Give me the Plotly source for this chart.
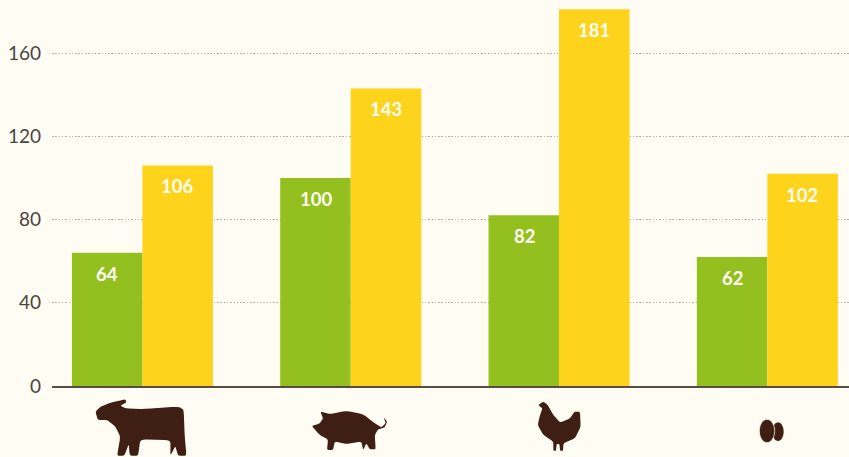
import math
import plotly.graph_objects as go

categories = ["Beef", "Pork", "Chicken", "Eggs"]
green_values = [64, 100, 82, 62]
yellow_values = [106, 143, 181, 102]
y_ticks = [0, 40, 80, 120, 160]

BG = "#fffdf3"
GREEN = "#93c01f"
YELLOW = "#fdd31c"
BROWN = "#3f1f14"
TEXT = "#4a4540"
FONT = "Lato, Open Sans, sans-serif"

# Icon outlines, traced in the zoomed reference (3x, origin at y=340)
cow = [(285,215),(300,200),(330,188),(375,178),(378,187),(360,197),(375,205),(430,207),(535,200),(550,210),
       (553,290),(558,347),(533,347),(525,318),(510,347),(510,300),(420,298),(413,347),(388,347),(385,312),
       (372,347),(350,347),(360,290),(345,260),(320,240),(292,240)]
pig = [(936,258),(960,250),(970,235),(962,215),(990,222),(1040,213),(1090,222),(1125,250),(1145,262),(1158,250),
       (1152,232),(1162,245),(1155,262),(1135,268),(1125,285),(1128,328),(1110,328),(1100,310),(1090,330),
       (1085,305),(1040,312),(1005,305),(1000,330),(982,330),(985,298),(960,285)]
hen = [(340,195),(355,185),(368,195),(385,225),(405,248),(435,235),(448,215),(465,215),(467,260),(450,295),
       (415,310),(414,332),(405,332),(403,312),(395,312),(393,332),(385,332),(385,305),(355,285),(338,255),
       (345,225),(352,205)]


def ellipse(cx, cy, rx, ry, n=28):
    return [(cx + rx * math.cos(2 * math.pi * k / n), cy + ry * math.sin(2 * math.pi * k / n)) for k in range(n)]


def icon_path(points, center_px):
    pts = [(zx / 3 - center_px, 386 - (340 + zy / 3)) for zx, zy in points]
    n = len(pts)
    parts = []
    for i, p in enumerate(pts):
        prev, nxt = pts[i - 1], pts[(i + 1) % n]
        a = (p[0] + 0.2 * (prev[0] - p[0]), p[1] + 0.2 * (prev[1] - p[1]))
        b = (p[0] + 0.2 * (nxt[0] - p[0]), p[1] + 0.2 * (nxt[1] - p[1]))
        parts.append(f"{'M' if i == 0 else 'L'} {a[0]:.1f} {a[1]:.1f} Q {p[0]:.1f} {p[1]:.1f} {b[0]:.1f} {b[1]:.1f}")
    return " ".join(parts) + " Z"


def icon_shape(points, cat, center_px, line=None):
    return dict(
        type="path", path=icon_path(points, center_px),
        xref="x", yref="paper", xsizemode="pixel", ysizemode="pixel",
        xanchor=cat, yanchor=0, fillcolor=BROWN,
        line=dict(width=line or 0, color=BG),
    )


fig = go.Figure()
fig.add_bar(x=categories, y=green_values, marker=dict(color=GREEN, line_width=0), name="Green")
fig.add_bar(x=categories, y=yellow_values, marker=dict(color=YELLOW, line_width=0), name="Yellow")

annotations = []
for series, shift in ((green_values, -35), (yellow_values, 35)):
    for cat, val in zip(categories, series):
        annotations.append(dict(
            x=cat, y=val, xref="x", yref="y", text=str(val), showarrow=False,
            xshift=shift, yshift=-21, yanchor="middle", xanchor="center",
            font=dict(family=FONT, size=18.5, color="#fffdf3", weight="bold"),
        ))

shapes = [
    icon_shape(cow, 0, 142),
    icon_shape(pig, 1, 351),
    icon_shape(hen, 2, 134),
    icon_shape(ellipse(1058, 275, 17, 28), 3, 342),
    icon_shape(ellipse(1025, 273, 23, 35), 3, 342, line=0.8),
]

fig.update_layout(
    width=849, height=457, autosize=False,
    paper_bgcolor=BG, plot_bgcolor=BG,
    margin=dict(l=52, r=0, t=0, b=71),
    barmode="group", bargap=0.323, bargroupgap=0,
    showlegend=False,
    annotations=annotations, shapes=shapes,
    xaxis=dict(
        type="category", categoryorder="array", categoryarray=categories,
        range=[-0.434, 3.392], showticklabels=False, ticks="", showgrid=False,
        showline=True, linecolor="#5a4a42", linewidth=2, zeroline=False,
    ),
    yaxis=dict(
        range=[0, 185.5], tickvals=y_ticks, ticktext=[str(v) for v in y_ticks],
        showgrid=True, gridcolor="#b5b2a8", griddash="1.5px,1.8px", gridwidth=1,
        zeroline=False, showline=False, ticks="", ticklabelstandoff=10,
        tickfont=dict(family=FONT, size=19, color=TEXT),
    ),
)

fig.write_html(
    "out.html",
    config={"displayModeBar": False},
    post_script="document.documentElement.style.background='#fffdf3';"
                "document.body.style.margin='0';document.body.style.background='#fffdf3';"
                "document.documentElement.style.overflow='hidden';",
)
